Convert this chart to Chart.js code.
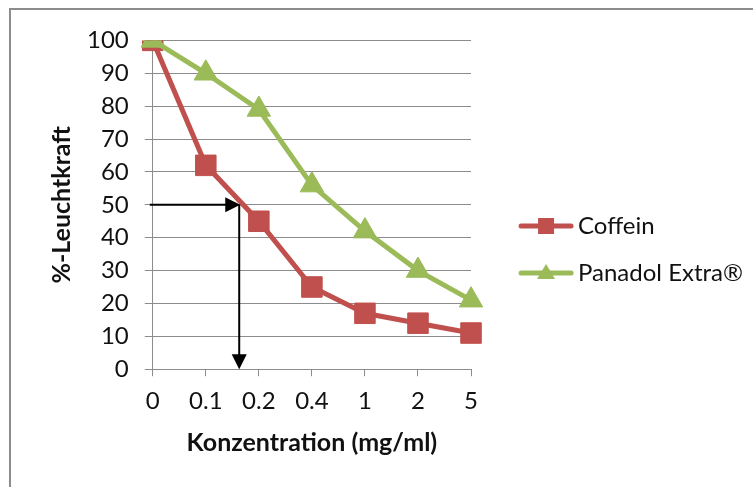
<!DOCTYPE html>
<html>
<head>
<meta charset="utf-8">
<script src="https://cdn.jsdelivr.net/npm/chart.js@4"></script>
<style>
    html, body { margin: 0; padding: 0; background: #fff; overflow: hidden; }
    #frame {
        position: absolute; left: 9px; top: 8px; width: 760px; height: 490px;
        border-left: 2px solid #8c8c8c; border-top: 2px solid #8c8c8c;
    }
    #chart { display: block; }
</style>
</head>
<body>
<div id="frame"><canvas id="chart" width="742" height="477"></canvas></div>
<script>
// Values
const concentrations = ["0", "0.1", "0.2", "0.4", "1", "2", "5"];
const coffein = [100, 62, 45, 25, 17, 14, 11];
const panadolExtra = [100, 90, 79, 56, 42, 30, 21];

// The hand-drawn guide: 50 % level and where it meets the Coffein curve
// (fractional category index, between 0.1 and 0.2)
const guideLevel = 50;
const guidePosition = 1.63;

const RED = "#C0504D";
const GREEN = "#9BBB59";
const GRID = "#8c8c8c";
const FONT = "Lato";

// Legend icons: a short line with the marker in the middle, like Excel draws them.
// The canvas is wider than the visible line (transparent on the left) so the
// line sits close to the text.
function legendIcon(color, shape) {
    const c = document.createElement("canvas");
    c.width = 88;
    c.height = 24;
    const g = c.getContext("2d");
    g.strokeStyle = color;
    g.fillStyle = color;
    g.lineWidth = 5;
    g.lineCap = "round";
    g.beginPath();
    g.moveTo(35, 12);
    g.lineTo(85, 12);
    g.stroke();
    if (shape === "rect") {
        g.fillRect(52, 4, 16, 16);
    } else {
        g.beginPath();
        g.moveTo(60, 3);
        g.lineTo(69, 18);
        g.lineTo(51, 18);
        g.closePath();
        g.fill();
    }
    return c;
}
const legendIcons = [legendIcon(RED, "rect"), legendIcon(GREEN, "triangle")];

function arrowHead(ctx, tipX, tipY, dir) {
    const len = 15, half = 7.5;
    ctx.beginPath();
    ctx.moveTo(tipX, tipY);
    if (dir === "right") {
        ctx.lineTo(tipX - len, tipY - half);
        ctx.lineTo(tipX - len, tipY + half);
    } else {
        ctx.lineTo(tipX - half, tipY - len);
        ctx.lineTo(tipX + half, tipY - len);
    }
    ctx.closePath();
    ctx.fill();
}

const guideArrows = {
    id: "guideArrows",
    afterDatasetsDraw(chart) {
        const { ctx, scales: { x, y } } = chart;
        const px = x.getPixelForValue(guidePosition);
        const py = y.getPixelForValue(guideLevel);
        const bottom = y.getPixelForValue(0);
        ctx.save();
        ctx.strokeStyle = "#000";
        ctx.fillStyle = "#000";
        ctx.lineWidth = 2;
        ctx.beginPath();
        ctx.moveTo(x.left - 3, py);
        ctx.lineTo(px - 10, py);
        ctx.moveTo(px, py);
        ctx.lineTo(px, bottom - 10);
        ctx.stroke();
        arrowHead(ctx, px + 1, py, "right");
        arrowHead(ctx, px, bottom, "down");
        ctx.restore();
    },
};

function draw() {
    new Chart(document.getElementById("chart"), {
        type: "line",
        data: {
            labels: concentrations,
            datasets: [
                {
                    label: "Coffein",
                    data: coffein,
                    borderColor: RED,
                    backgroundColor: RED,
                    borderWidth: 5,
                    pointStyle: "rect",
                    pointRadius: 14.5,
                    pointBorderWidth: 1,
                    order: 1,
                },
                {
                    label: "Panadol Extra®",
                    data: panadolExtra,
                    borderColor: GREEN,
                    backgroundColor: GREEN,
                    borderWidth: 5,
                    pointStyle: "triangle",
                    pointRadius: 13.5,
                    pointBorderWidth: 1,
                    order: 0,
                },
            ],
        },
        options: {
            responsive: false,
            animation: false,
            layout: {
                padding: { left: 36, top: 29, right: 0, bottom: 27 },
            },
            scales: {
                x: {
                    offset: false,
                    grid: { drawOnChartArea: false, tickLength: 7, color: GRID },
                    border: { color: GRID, width: 1 },
                    ticks: { font: { family: FONT, size: 24 }, color: "#111", padding: 11, maxRotation: 0 },
                    title: {
                        display: true,
                        text: "Konzentration (mg/ml)",
                        font: { family: FONT, size: 25, weight: "bold" },
                        color: "#111",
                        padding: { top: 1, bottom: 2 },
                    },
                },
                y: {
                    min: 0,
                    max: 100,
                    grid: { color: GRID, tickLength: 8 },
                    border: { color: GRID, width: 1 },
                    ticks: { stepSize: 10, autoSkip: false, font: { family: FONT, size: 24 }, color: "#111", padding: 16 },
                    title: {
                        display: true,
                        text: "%-Leuchtkraft",
                        font: { family: FONT, size: 25, weight: "bold" },
                        color: "#111",
                        padding: { top: 0, bottom: -6 },
                    },
                },
            },
            plugins: {
                legend: {
                    position: "right",
                    maxWidth: 282,
                    labels: {
                        font: { family: FONT, size: 24 },
                        color: "#111",
                        usePointStyle: true,
                        pointStyleWidth: 72,
                        padding: 23,
                        sort: (a, b) => a.datasetIndex - b.datasetIndex,
                        generateLabels: (chart) =>
                            Chart.defaults.plugins.legend.labels.generateLabels(chart).map((item) => ({
                                ...item,
                                pointStyle: legendIcons[item.datasetIndex],
                            })),
                    },
                },
                tooltip: { enabled: false },
            },
        },
        plugins: [guideArrows],
    });
}

document.fonts.load(`24px ${FONT}`).then(draw, draw);
</script>
</body>
</html>
